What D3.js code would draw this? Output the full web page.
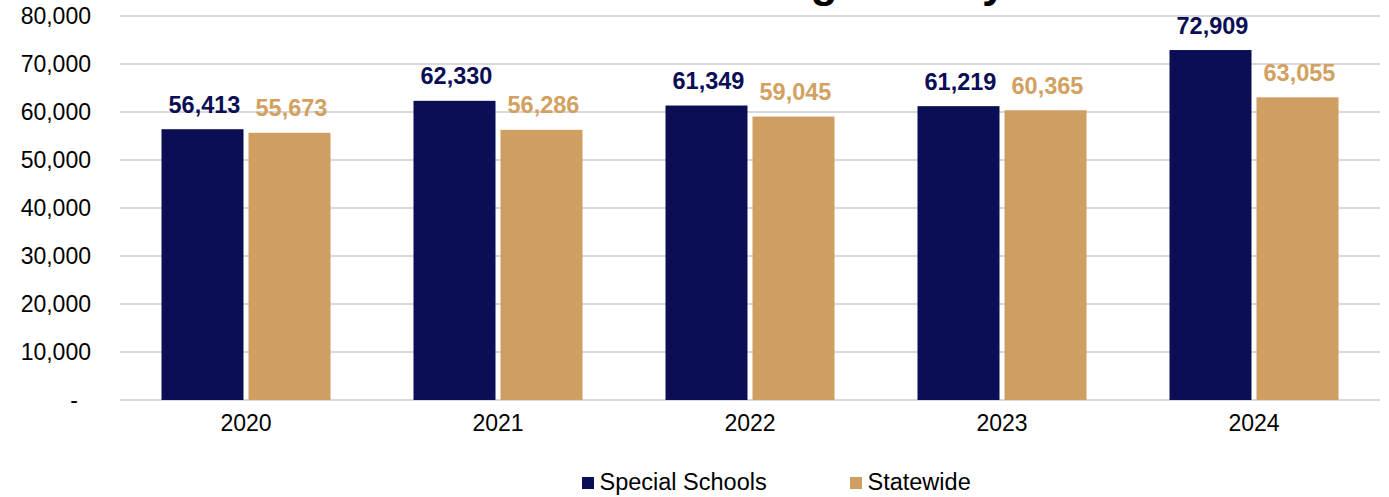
<!DOCTYPE html>
<html>
<head>
<meta charset="utf-8">
<script src="https://cdn.jsdelivr.net/npm/d3@7"></script>
<style>
  html, body { margin: 0; padding: 0; background: #ffffff; }
  svg { display: block; font-family: "Liberation Sans", Arial, sans-serif; }
</style>
</head>
<body>
<svg id="chart" width="1389" height="497"></svg>
<script>
// Average salary by year: special schools vs. statewide
const years = ["2020", "2021", "2022", "2023", "2024"];
const specialSchools = [56413, 62330, 61349, 61219, 72909];
const statewide = [55673, 56286, 59045, 60365, 63055];
const seriesNames = ["Special Schools", "Statewide"];
const seriesColors = ["#0b0e55", "#cf9e61"];
const labelColors = ["#0b0e55", "#d2a162"];
const yTicks = [0, 10000, 20000, 30000, 40000, 50000, 60000, 70000, 80000];
const titleText = "Average Salary";

const svg = d3.select("#chart");
const plot = { left: 120, right: 1380, top: 16, bottom: 400 };

const rows = years.map((yr, i) => ({ year: yr, values: [specialSchools[i], statewide[i]] }));

const x0 = d3.scaleBand().domain(years).range([plot.left, plot.right]).paddingInner(0).paddingOuter(0);
const x1 = d3.scaleBand().domain([0, 1]).range([41.5, x0.bandwidth() - 41.5]).paddingInner(0.0575).paddingOuter(0);
const y = d3.scaleLinear().domain([0, 80000]).range([plot.bottom, plot.top]);

// Title (sits above the visible area)
svg.append("text")
  .attr("x", 690).attr("y", -3)
  .attr("font-size", 44).attr("font-weight", "bold")
  .attr("fill", "#000")
  .text(titleText);

// Horizontal gridlines
svg.append("g")
  .selectAll("line")
  .data(yTicks)
  .join("line")
  .attr("x1", plot.left).attr("x2", plot.right)
  .attr("y1", d => y(d)).attr("y2", d => y(d))
  .attr("stroke", "#d9d9d9").attr("stroke-width", 2);

// Y axis labels
const fmt = d3.format(",");
const yAxis = d3.axisLeft(y).tickValues(yTicks).tickSize(0).tickPadding(0)
  .tickFormat(d => d === 0 ? "-" : fmt(d));
const yg = svg.append("g").attr("transform", `translate(91,0)`).call(yAxis);
yg.select(".domain").remove();
yg.selectAll("text")
  .attr("font-size", 23).attr("fill", "#000")
  .attr("font-family", "Liberation Sans, Arial, sans-serif")
  .attr("dy", "0.34em")
  .attr("x", d => d === 0 ? -13 : 0);

// X axis labels
const xAxis = d3.axisBottom(x0).tickSize(0).tickPadding(0);
const xg = svg.append("g").attr("transform", `translate(0,${plot.bottom})`).call(xAxis);
xg.select(".domain").remove();
xg.selectAll("text")
  .attr("font-size", 23).attr("fill", "#000")
  .attr("font-family", "Liberation Sans, Arial, sans-serif")
  .attr("dy", 0).attr("y", 31);

// Bars
const groups = svg.append("g")
  .selectAll("g")
  .data(rows)
  .join("g")
  .attr("transform", d => `translate(${x0(d.year)},0)`);

groups.selectAll("rect")
  .data(d => d.values.map((v, k) => ({ k, v })))
  .join("rect")
  .attr("x", d => x1(d.k))
  .attr("width", x1.bandwidth())
  .attr("y", d => y(d.v))
  .attr("height", d => y(0) - y(d.v))
  .attr("fill", d => seriesColors[d.k]);

// Value labels
groups.selectAll("text.val")
  .data(d => d.values.map((v, k) => ({ k, v })))
  .join("text")
  .attr("class", "val")
  .attr("x", d => x1(d.k) + x1.bandwidth() / 2 + 2)
  .attr("y", d => y(d.v) - 16.5)
  .attr("text-anchor", "middle")
  .attr("font-size", 23.5).attr("font-weight", "bold")
  .attr("fill", d => labelColors[d.k])
  .text(d => fmt(d.v));

// Legend
const legendX = [582, 850];
const legend = svg.append("g")
  .selectAll("g")
  .data(seriesNames)
  .join("g")
  .attr("transform", (d, i) => `translate(${legendX[i]},477)`);
legend.append("rect")
  .attr("width", 12).attr("height", 12)
  .attr("fill", (d, i) => seriesColors[i]);
legend.append("text")
  .attr("x", 17.5).attr("y", 13)
  .attr("font-size", 23.5).attr("fill", "#000")
  .text(d => d);
</script>
</body>
</html>
